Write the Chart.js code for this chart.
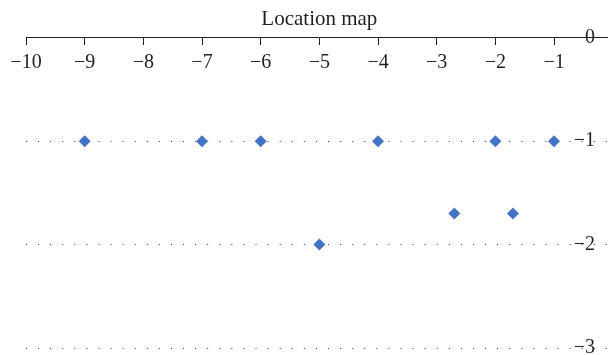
<!DOCTYPE html>
<html>
<head>
<meta charset="utf-8">
<script src="https://cdn.jsdelivr.net/npm/chart.js@4/dist/chart.umd.min.js"></script>
<style>
  html, body { margin: 0; padding: 0; background: #fff; overflow: hidden; width: 608px; height: 355px; }
  #wrap { width: 640px; height: 360px; }
</style>
</head>
<body>
<div id="wrap"><canvas id="c" width="640" height="360"></canvas></div>
<script>
// ---- data ----
const chartTitle = 'Location map';
const xValues = [-9, -7, -6, -4, -2, -1, -2.7, -1.7, -5];
const yValues = [-1, -1, -1, -1, -1, -1, -1.7, -1.7, -2];
const xTickValues = [-10, -9, -8, -7, -6, -5, -4, -3, -2, -1, 0];
const xTickLabels = ['\u221210', '\u22129', '\u22128', '\u22127', '\u22126', '\u22125', '\u22124', '\u22123', '\u22122', '\u22121', '0'];
const yTickValues = [0, -1, -2, -3];
const yTickLabels = ['0', '\u22121', '\u22122', '\u22123'];

const points = xValues.map((x, i) => ({ x: x, y: yValues[i] }));
const labelFor = (vals, labs) => (v) => {
  const i = vals.findIndex(t => Math.abs(t - v) < 1e-9);
  return i >= 0 ? labs[i] : '';
};

const ink = '#231f20';
const font = { family: "'Liberation Serif', 'Times New Roman', serif", size: 20 };

new Chart(document.getElementById('c'), {
  type: 'scatter',
  data: {
    datasets: [{
      data: points,
      pointStyle: 'rectRot',
      pointRadius: 6,
      pointHoverRadius: 6,
      pointBorderWidth: 0,
      backgroundColor: '#4472c4',
      borderColor: '#4472c4'
    }]
  },
  options: {
    responsive: false,
    animation: false,
    devicePixelRatio: 1,
    layout: { padding: { left: 26, right: 27.3, top: 0, bottom: 3 } },
    plugins: {
      legend: { display: false },
      tooltip: { enabled: false },
      title: {
        display: true,
        text: chartTitle,
        color: ink,
        font: { family: font.family, size: 21, weight: 'normal' },
        padding: { top: 6.5, bottom: 6 }
      }
    },
    scales: {
      x: {
        type: 'linear',
        position: { y: 0 },
        min: -10,
        max: 0,
        ticks: {
          stepSize: 1,
          color: ink,
          font: font,
          padding: 6,
          maxRotation: 0,
          autoSkip: false,
          callback: labelFor(xTickValues, xTickLabels)
        },
        grid: {
          drawOnChartArea: false,
          drawTicks: true,
          tickLength: 7,
          color: ink,
          lineWidth: 1
        },
        border: { display: true, color: ink, width: 1 }
      },
      y: {
        type: 'linear',
        position: { x: -0.3 },
        min: -3,
        max: 0,
        ticks: {
          stepSize: 1,
          color: ink,
          font: font,
          padding: 0,
          callback: labelFor(yTickValues, yTickLabels)
        },
        grid: {
          drawTicks: false,
          color: '#333',
          lineWidth: 1
        },
        border: { display: false, dash: [1, 11.08] }
      }
    }
  }
});
</script>
</body>
</html>
